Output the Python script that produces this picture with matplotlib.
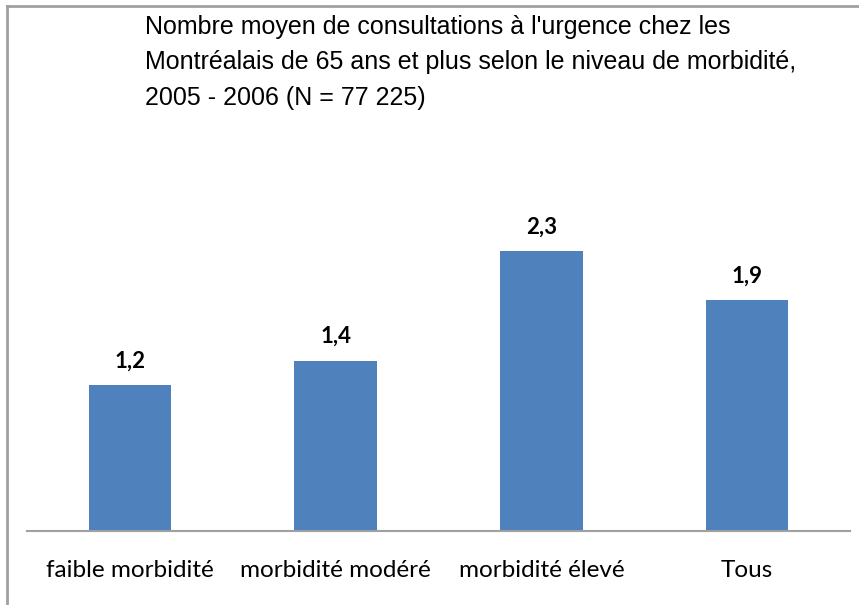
import matplotlib
matplotlib.use("Agg")
import matplotlib.pyplot as plt
from matplotlib.lines import Line2D

categories = ["faible morbidité", "morbidité modéré", "morbidité élevé", "Tous"]
values = [1.2, 1.4, 2.3, 1.9]
value_labels = ["1,2", "1,4", "2,3", "1,9"]
title_lines = [
    "Nombre moyen de consultations à l'urgence chez les",
    "Montréalais de 65 ans et plus selon le niveau de morbidité,",
    "2005 - 2006 (N = 77 225)",
]

W, H = 859, 605
fig = plt.figure(figsize=(W / 100, H / 100), dpi=100)
fig.patch.set_facecolor("white")

# axes: x from 27 to 850 px, baseline at 531 px
ax = fig.add_axes([27 / W, (H - 531) / H, (850 - 27) / W, (531 - 105) / H])
ax.set_xlim(-0.5, len(categories) - 0.5)
ax.set_ylim(0, 3.5)
x = list(range(len(categories)))
ax.bar(x, values, width=0.4, color="#4F81BD", zorder=2)

for xi, v, lab in zip(x, values, value_labels):
    ax.annotate(lab, (xi, v), xytext=(0, 24), textcoords="offset pixels",
                ha="center", va="center", fontsize=16, fontweight="bold",
                family=["Lato", "DejaVu Sans"], color="black")

for s in ["top", "right", "left"]:
    ax.spines[s].set_visible(False)
ax.spines["bottom"].set_color("#A0A0A0")
ax.spines["bottom"].set_linewidth(1.5)
ax.set_yticks([])
ax.set_xticks(x)
ax.set_xticklabels(categories, fontsize=17.5, family=["Lato", "DejaVu Sans"])
ax.tick_params(axis="x", length=0, pad=21)

# title
for i, line in enumerate(title_lines):
    fig.text(145 / W, 1 - (27 + i * 35.5) / H, line, ha="left", va="center",
             fontsize=18, family=["Liberation Sans", "DejaVu Sans"], color="black")

# border (top and left)
fig.add_artist(Line2D([7 / W, 1], [1 - 6 / H, 1 - 6 / H], transform=fig.transFigure,
                      color="#A0A0A0", lw=2))
fig.add_artist(Line2D([7 / W, 7 / W], [1 - 6 / H, 0], transform=fig.transFigure,
                      color="#A0A0A0", lw=2))

fig.savefig("out.png", dpi=100)
